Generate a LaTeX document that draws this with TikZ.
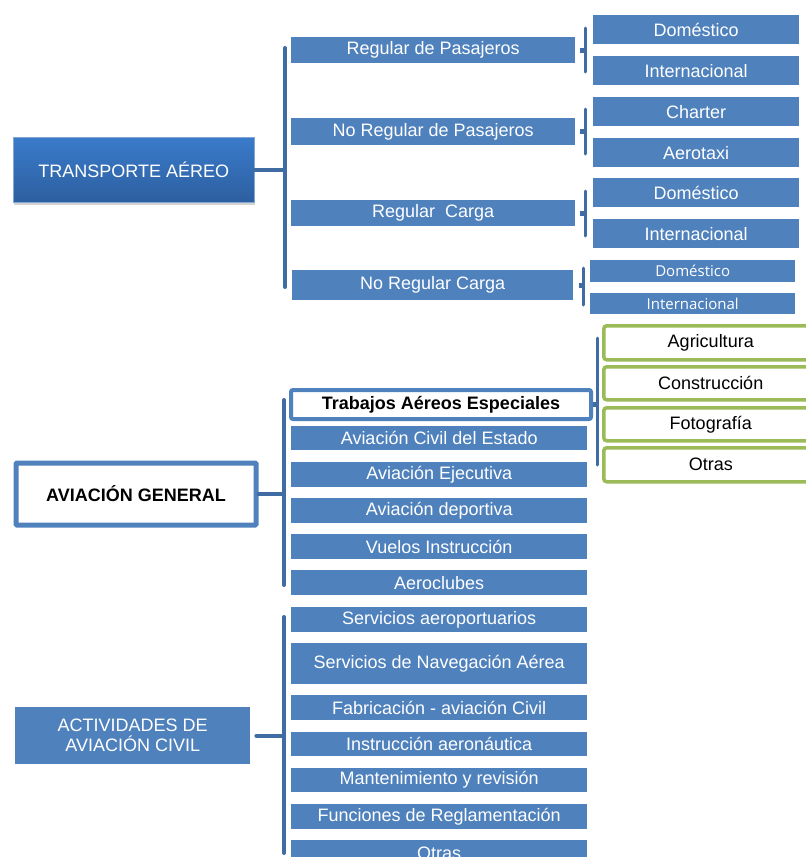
\documentclass[tikz,border=0pt]{standalone}
\usepackage{fontspec}
\setmainfont{Liberation Sans}
\newfontfamily\smallfont{Open Sans}
\usetikzlibrary{shadows}

\definecolor{boxblue}{HTML}{4F81BD}
\definecolor{linkblue}{HTML}{3F6CA3}
\definecolor{topblue}{HTML}{3A7BCB}
\definecolor{botblue}{HTML}{2D5F9F}
\definecolor{leafgreen}{HTML}{9BBB59}

\tikzset{
  box/.style={fill=boxblue, text=white, inner sep=0pt, anchor=north west,
    font=\fontsize{18}{20}\selectfont},
  topbox/.style={box, top color=topblue, bottom color=botblue, draw=boxblue!70,
    drop shadow={opacity=0.35, shadow xshift=1pt, shadow yshift=-3pt}},
  whitebox/.style={draw=boxblue, fill=white, text=black, inner sep=0pt,
    anchor=north west, rounded corners=2pt, font=\fontsize{18}{20}\selectfont\bfseries},
  greenbox/.style={draw=leafgreen, line width=3.5pt, fill=white, rounded corners=3pt,
    inner sep=0pt, anchor=north west, font=\fontsize{18}{20}\selectfont},
  brace/.style={draw=linkblue, line width=4pt, line cap=round},
  thinbrace/.style={draw=linkblue, line width=3pt, line cap=round},
  nub/.style={draw=linkblue, line width=5pt},
}

\begin{document}
\begin{tikzpicture}[x=1pt, y=-1pt]
\useasboundingbox (0,0) rectangle (806,857);
\clip (0,0) rectangle (806,857);

% transporte aereo
\node[topbox, minimum width=241pt, minimum height=65pt] (ta) at (13,137) {TRANSPORTE AÉREO};

\node[box, minimum width=284pt, minimum height=26pt] (rp)  at (291,37)  {Regular de Pasajeros};
\node[box, minimum width=284pt, minimum height=27pt] (nrp) at (291,118) {No Regular de Pasajeros};
\node[box, minimum width=284pt, minimum height=26pt] (rc)  at (291,200) {Regular\ \ Carga};
\node[box, minimum width=281pt, minimum height=30pt] (nrc) at (292,270) {No Regular Carga};

\node[box, minimum width=206pt, minimum height=29pt] (d1) at (593,15)  {Doméstico};
\node[box, minimum width=206pt, minimum height=29pt] (i1) at (593,56)  {Internacional};
\node[box, minimum width=206pt, minimum height=29pt] (ch) at (593,97)  {Charter};
\node[box, minimum width=206pt, minimum height=29pt] (ax) at (593,138) {Aerotaxi};
\node[box, minimum width=206pt, minimum height=29pt] (d2) at (593,178) {Doméstico};
\node[box, minimum width=206pt, minimum height=29pt] (i2) at (593,219) {Internacional};
\node[box, minimum width=205pt, minimum height=22pt, font=\smallfont\fontsize{15}{17}\selectfont] (d3) at (590,260) {Doméstico};
\node[box, minimum width=205pt, minimum height=21pt, font=\smallfont\fontsize{15}{17}\selectfont] (i3) at (590,293) {Internacional};

\coordinate (tat) at (285,48);
\coordinate (tab) at (285,287);
\draw[brace] (tat) -- (tab);
\draw[brace] (ta.east) -- (ta.east -| tat);

\coordinate (b1t) at (585,28);  \coordinate (b1b) at (585,72);
\coordinate (b2t) at (585,109); \coordinate (b2b) at (585,154);
\coordinate (b3t) at (585,191); \coordinate (b3b) at (585,236);
\coordinate (b4t) at (583,268); \coordinate (b4b) at (583,305);
\draw[thinbrace] (b1t) -- (b1b);
\draw[thinbrace] (b2t) -- (b2b);
\draw[thinbrace] (b3t) -- (b3b);
\draw[thinbrace] (b4t) -- (b4b);
\draw[nub] ([xshift=5pt]rp.east)  -- (rp.east -| b1t);
\draw[nub] ([xshift=5pt]nrp.east) -- (nrp.east -| b2t);
\draw[nub] ([xshift=5pt]rc.east)  -- (rc.east -| b3t);
\draw[nub] ([xshift=6pt]nrc.east) -- (nrc.east -| b4t);

% aviacion general
\node[whitebox, line width=5pt, rounded corners=1pt, minimum width=240pt, minimum height=62pt] (ag) at (13.5,460.5) {AVIACIÓN GENERAL};

\node[whitebox, line width=4pt, minimum width=300pt, minimum height=29pt] (te) at (289,388) {Trabajos Aéreos Especiales};
\node[box, minimum width=296pt, minimum height=24pt] (acd) at (291,426) {Aviación Civil del Estado};
\node[box, minimum width=296pt, minimum height=25pt] (ae)  at (291,462) {Aviación Ejecutiva};
\node[box, minimum width=296pt, minimum height=25pt] (ad)  at (291,498) {Aviación deportiva};
\node[box, minimum width=296pt, minimum height=25pt] (vi)  at (291,534) {Vuelos Instrucción};
\node[box, minimum width=296pt, minimum height=25pt] (ac)  at (291,570) {Aeroclubes};

\node[greenbox, minimum width=214pt, minimum height=34pt] (agr) at (602,324) {Agricultura};
\node[greenbox, minimum width=214pt, minimum height=33pt] (con) at (602,365) {Construcción};
\node[greenbox, minimum width=214pt, minimum height=33pt] (fot) at (602,406) {Fotografía};
\node[greenbox, minimum width=214pt, minimum height=34pt] (otg) at (602,446) {Otras};

\coordinate (agt) at (284,400);
\coordinate (agb) at (284,585);
\draw[brace] (agt) -- (agb);
\draw[brace] (ag.east) -- (ag.east -| agt);

\coordinate (tet) at (597,338);
\coordinate (teb) at (597,465);
\draw[thinbrace] (tet) -- (teb);
\draw[nub] (te.east) -- (te.east -| tet);

% actividades de aviacion civil
\node[box, align=center, minimum width=235pt, minimum height=57pt] (acv) at (15,707) {ACTIVIDADES DE\\AVIACIÓN CIVIL};

\node[box, minimum width=296pt, minimum height=25pt] (sa) at (291,607) {Servicios aeroportuarios};
\node[box, minimum width=296pt, minimum height=41pt] (sn) at (291,643) {Servicios de Navegación Aérea};
\node[box, minimum width=296pt, minimum height=25pt] (fa) at (291,695) {Fabricación - aviación Civil};
\node[box, minimum width=296pt, minimum height=24pt] (ia) at (291,732) {Instrucción aeronáutica};
\node[box, minimum width=296pt, minimum height=24pt] (mr) at (291,768) {Mantenimiento y revisión};
\node[box, minimum width=296pt, minimum height=25pt] (fr) at (291,804) {Funciones de Reglamentación};
\node[box, minimum width=296pt, minimum height=26pt] (ot) at (291,840) {Otras};

\coordinate (act) at (284,617);
\coordinate (acb) at (284,853);
\draw[brace] (act) -- (acb);
\draw[brace] ([xshift=6pt]acv.east) -- (acv.east -| act);
\end{tikzpicture}
\end{document}
